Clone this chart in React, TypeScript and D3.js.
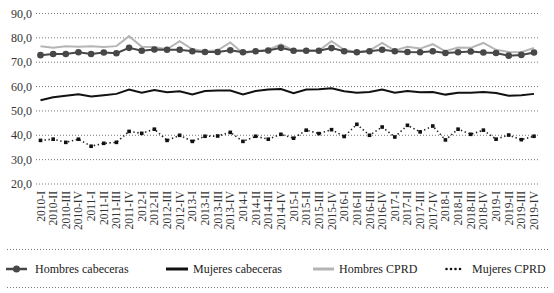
import React from "react";
import * as d3 from "d3";

const years = ["2010", "2011", "2012", "2013", "2014", "2015", "2016", "2017", "2018", "2019"];
const quarters = ["I", "II", "III", "IV"];
const periods = years.flatMap((y) => quarters.map((q) => `${y}-${q}`));

const hombresCabeceras = [
  72.9, 73.4, 73.4, 74.1, 73.4, 74.0, 73.7, 75.9, 74.7, 75.2,
  75.1, 75.1, 74.5, 74.2, 74.2, 74.9, 74.1, 74.5, 74.8, 75.9,
  74.7, 74.7, 74.7, 75.8, 74.5, 74.1, 74.5, 75.1, 74.5, 74.2,
  74.1, 74.5, 73.8, 74.1, 74.4, 74.0, 73.8, 72.7, 73.0, 74.0,
];
const mujeresCabeceras = [
  54.4, 55.6, 56.2, 56.8, 55.9, 56.4, 57.0, 58.8, 57.5, 58.6,
  57.7, 58.1, 56.8, 58.2, 58.4, 58.4, 56.8, 58.2, 58.8, 59.0,
  57.3, 58.8, 58.9, 59.3, 58.1, 57.5, 57.8, 58.8, 57.5, 58.2,
  57.7, 57.8, 56.7, 57.5, 57.5, 57.8, 57.4, 56.2, 56.4, 57.0,
];
const hombresCPRD = [
  76.6, 75.9, 76.6, 76.4, 76.6, 76.2, 76.6, 80.7, 76.3, 76.2,
  75.3, 78.6, 75.3, 74.5, 74.9, 78.1, 73.7, 74.5, 75.1, 77.3,
  74.8, 74.8, 74.8, 78.6, 75.1, 74.2, 74.8, 77.9, 74.8, 76.3,
  75.6, 77.4, 74.5, 76.0, 75.9, 77.9, 75.1, 74.2, 74.1, 75.9,
];
const mujeresCPRD = [
  37.9, 38.4, 37.1, 38.4, 35.5, 36.7, 37.1, 41.6, 40.8, 42.5,
  37.9, 40.0, 37.5, 39.6, 39.7, 41.2, 37.5, 39.6, 38.4, 40.4,
  38.8, 42.1, 40.7, 42.3, 39.5, 44.5, 40.0, 43.4, 39.3, 44.1,
  41.4, 43.8, 38.1, 42.5, 40.4, 42.1, 38.4, 40.1, 38.2, 39.6,
];
const yTicks = [20, 30, 40, 50, 60, 70, 80, 90];

const W = 554;
const H = 293;
const FONT = "Liberation Serif";
const DARK = "#474747";
const LIGHT = "#b5b5b5";

export default function App() {
  const x = d3.scalePoint<string>().domain(periods).range([40.5, 534]);
  const y = d3.scaleLinear().domain([20, 90]).range([184, 13.5]);
  const fmt = (v: number) => d3.format(".1f")(v).replace(".", ",");

  const line = d3
    .line<number>()
    .x((_, i) => x(periods[i]) as number)
    .y((d) => y(d));

  return (
    <svg width={W} height={H} fontFamily={FONT} style={{ position: "absolute", left: 0, top: 0 }}>
      {/* grid */}
      {yTicks.map((t) => (
        <g key={t}>
          <line
            x1={36}
            x2={540}
            y1={y(t)}
            y2={y(t)}
            stroke="#555"
            strokeWidth={0.8}
            strokeDasharray="1,2"
          />
          <text x={32} y={y(t) + 4} textAnchor="end" fontSize={12} fontFamily={FONT} fill="#333">
            {fmt(t)}
          </text>
        </g>
      ))}

      {/* x labels */}
      {periods.map((p) => (
        <text
          key={p}
          transform={`translate(${(x(p) as number) + 4},191) rotate(-90)`}
          textAnchor="end"
          fontSize={11.5}
          fontFamily={FONT}
          fill="#333"
        >
          {p}
        </text>
      ))}

      {/* series */}
      <path d={line(hombresCPRD) ?? ""} fill="none" stroke={LIGHT} strokeWidth={2} />
      <path d={line(mujeresCabeceras) ?? ""} fill="none" stroke="#111" strokeWidth={2} />
      <path
        d={line(mujeresCPRD) ?? ""}
        fill="none"
        stroke="#222"
        strokeWidth={1.6}
        strokeDasharray="1.4,2.6"
      />
      {mujeresCPRD.map((v, i) => (
        <rect
          key={i}
          x={(x(periods[i]) as number) - 1.8}
          y={y(v) - 1.8}
          width={3.6}
          height={3.6}
          fill="#111"
        />
      ))}
      <path d={line(hombresCabeceras) ?? ""} fill="none" stroke={DARK} strokeWidth={2} />
      {hombresCabeceras.map((v, i) => (
        <circle key={i} cx={x(periods[i]) as number} cy={y(v)} r={3.3} fill={DARK} />
      ))}

      {/* legend */}
      <line x1={7} x2={548} y1={249.5} y2={249.5} stroke="#555" strokeWidth={0.8} strokeDasharray="1,2" />
      <line x1={7} x2={548} y1={287.5} y2={287.5} stroke="#555" strokeWidth={0.8} strokeDasharray="1,2" />
      <line x1={6} x2={27} y1={269} y2={269} stroke={DARK} strokeWidth={2.5} />
      <circle cx={16.5} cy={269} r={3.5} fill={DARK} />
      <text x={35} y={273} fontSize={12} fontFamily={FONT} fill="#222">Hombres cabeceras</text>

      <line x1={166} x2={188} y1={269} y2={269} stroke="#111" strokeWidth={3} />
      <text x={193} y={273} fontSize={12} fontFamily={FONT} fill="#222">Mujeres cabeceras</text>

      <line x1={313} x2={334} y1={269} y2={269} stroke={LIGHT} strokeWidth={3} />
      <text x={339} y={273} fontSize={12} fontFamily={FONT} fill="#222">Hombres CPRD</text>

      {[0, 1, 2, 3].map((k) => (
        <circle key={k} cx={446.5 + k * 4.5} cy={269} r={1.3} fill="#111" />
      ))}
      <text x={472} y={273} fontSize={12} fontFamily={FONT} fill="#222">Mujeres CPRD</text>
    </svg>
  );
}
